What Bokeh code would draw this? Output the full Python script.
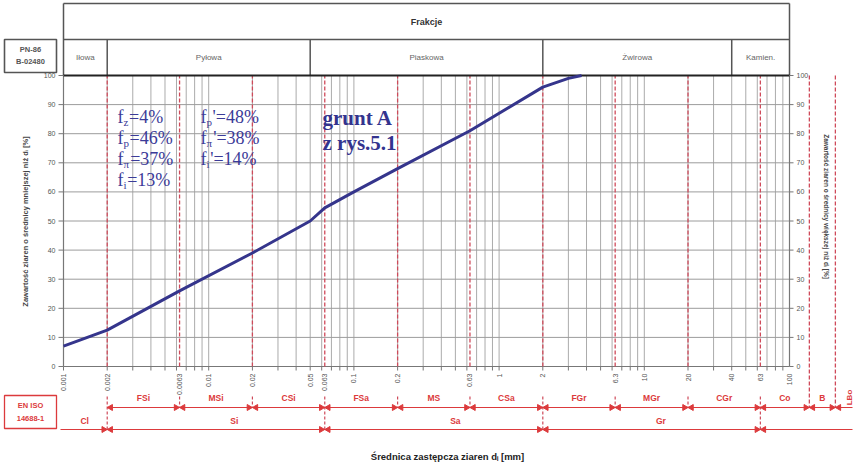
import math
from bokeh.plotting import figure
from bokeh.models import Range1d
from bokeh.core.properties import value
from bokeh.embed import file_html
from bokeh.resources import INLINE

# ---------------- data ----------------
grain_d = [0.001, 0.002, 0.0063, 0.02, 0.05, 0.063, 0.1, 0.2, 0.63, 2.0, 3.0, 3.7]
passing = [7.0, 12.5, 26.0, 39.0, 50.0, 54.5, 60.0, 68.0, 81.0, 96.0, 99.0, 100.0]

pn_bounds = [0.001, 0.002, 0.05, 2.0, 40.0, 100.0]
pn_names = ["Iłowa", "Pyłowa", "Piaskowa", "Żwirowa", "Kamien."]

iso_bounds = [0.002, 0.0063, 0.02, 0.063, 0.2, 0.63, 2.0, 6.3, 20.0, 63.0]
iso_main_bounds = [0.002, 0.063, 2.0, 63.0]
iso_sub_names = ["FSi", "MSi", "CSi", "FSa", "MS", "CSa", "FGr", "MGr", "CGr", "Co", "B"]
iso_main_names = ["Cl", "Si", "Sa", "Gr"]
iso_main_label_d = [0.0014, 0.015, 0.5, 13.0]
# 200 mm and 630 mm boundaries are drawn schematically (compressed) past 100 mm
iso_extra_display = [137.0, 207.0]

x_ticks = [0.001, 0.002, 0.0063, 0.01, 0.02, 0.05, 0.063, 0.1, 0.2, 0.63, 1, 2, 6.3, 10, 20, 40, 63, 100]
x_tick_labels = ["0.001", "0.002", "0.0063", "0.01", "0.02", "0.05", "0.063", "0.1", "0.2",
                 "0.63", "1", "2", "6.3", "10", "20", "40", "63", "100"]
y_ticks = [0, 10, 20, 30, 40, 50, 60, 70, 80, 90, 100]

frac_left_sub = ["z", "p", "π", "i"]
frac_left_val = ["=4%", "=46%", "=37%", "=13%"]
frac_right_sub = ["p", "π", "i"]
frac_right_val = ["'=48%", "'=38%", "'=14%"]

# ---------------- layout helpers (pixel -> data) ----------------
PX0, PXD = 71.0, 145.2      # pixel of 0.001 mm, pixels per decade
PY0, PYS = 374.0, 2.91      # pixel of 0 %, pixels per %
OFF = 8
W, H = 854, 467


def X(px):
    return 10 ** (-3 + (px - PX0) / PXD)


def V(py):
    return (PY0 - py) / PYS


def PXof(d):
    return PX0 + (math.log10(d) + 3) * PXD


p = figure(width=W, height=H, x_axis_type="log",
           x_range=Range1d(X(OFF), X(OFF + W)), y_range=Range1d(V(OFF + H), V(OFF)),
           min_border=0, toolbar_location=None, output_backend="svg",
           x_axis_location=None, y_axis_location=None)
p.outline_line_color = None
p.grid.visible = False
p.background_fill_color = "white"

SANS = value("Liberation Sans")
SERIF = value("Liberation Serif")
RED = "#dc3a3c"
DASH_RED = "#cf4a5a"
BLUE = "#3b3b98"

# ---------------- grid ----------------
gx = [k * 10.0 ** n for n in range(-3, 2) for k in range(1, 10)][1:]
p.segment(gx, [0] * len(gx), gx, [100] * len(gx), line_color="#ababab", line_width=1)
gy = y_ticks[1:-1]
p.segment([0.001] * len(gy), gy, [100] * len(gy), gy, line_color="#9c9c9c", line_width=1)

# frame
p.segment([0.001, 100, 0.001], [0, 0, 0], [0.001, 100, 100], [100, 100, 0],
          line_color="#777777", line_width=1.2)

# red dashed fraction boundaries
p.segment(iso_bounds, [0] * len(iso_bounds), iso_bounds, [100] * len(iso_bounds),
          line_color=DASH_RED, line_width=1.3, line_dash="4 2")
p.segment(iso_extra_display, [100, 100], iso_extra_display, [V(415)] * 2,
          line_color=DASH_RED, line_width=1.3, line_dash="4 2")

# ---------------- header ----------------
p.segment([0.001, 0.001, 0.001, 100], [V(11), V(47), V(11), V(11)],
          [100, 100, 0.001, 100], [V(11), V(47), 100, 100],
          line_color="#555555", line_width=1.5)
mid = pn_bounds[1:-1]
p.segment(mid, [V(47)] * len(mid), mid, [100] * len(mid), line_color="#555555", line_width=1.5)
p.segment([0.001], [100], [100], [100], line_color="#222222", line_width=2.2)
p.text(x=[math.sqrt(pn_bounds[0] * pn_bounds[-1])], y=[V(29)], text=["Frakcje"],
       text_font=SANS, text_font_style="bold", text_font_size="9px",
       text_align="center", text_baseline="middle", text_color="#333333")
pn_cx = [math.sqrt(a * b) for a, b in zip(pn_bounds[:-1], pn_bounds[1:])]
p.text(x=pn_cx, y=[V(65)] * len(pn_cx), text=pn_names, text_font=SANS, text_font_size="8px",
       text_align="center", text_baseline="middle", text_color="#666666")

p.quad(left=[X(12)], right=[X(64)], top=[V(47)], bottom=[V(80)],
       fill_color="white", line_color="#555555", line_width=1.6)
p.text(x=[X(38), X(38)], y=[V(57), V(69)], text=["PN-86", "B-02480"], text_font=SANS,
       text_font_style="bold", text_font_size="7.5px", text_align="center",
       text_baseline="middle", text_color="#555555")

# ---------------- axes ----------------
p.segment([X(66)] * len(y_ticks), y_ticks, [0.001] * len(y_ticks), y_ticks,
          line_color="#777777", line_width=1)
p.text(x=[X(63)] * len(y_ticks), y=y_ticks, text=[str(t) for t in y_ticks], text_font=SANS,
       text_font_size="7px", text_align="right", text_baseline="middle", text_color="#555555")
p.segment([100] * len(y_ticks), y_ticks, [X(801)] * len(y_ticks), y_ticks,
          line_color="#777777", line_width=1)
p.text(x=[X(804)] * len(y_ticks), y=y_ticks, text=[str(t) for t in y_ticks], text_font=SANS,
       text_font_size="7px", text_align="left", text_baseline="middle", text_color="#555555")

p.text(x=[X(33)], y=[V(229)], text=["Zawartość ziaren o średnicy mniejszej niż dᵢ [%]"],
       angle=math.pi / 2, text_font=SANS, text_font_style="bold", text_font_size="7.5px",
       text_align="center", text_baseline="middle", text_color="#444444")
p.text(x=[X(834)], y=[V(214)], text=["Zawartość ziaren o średnicy większej niż dᵢ [%]"],
       angle=-math.pi / 2, text_font=SANS, text_font_style="bold", text_font_size="6.5px",
       text_align="center", text_baseline="middle", text_color="#444444")

tx = [0.001] + gx
p.segment(tx, [0] * len(tx), tx, [V(378)] * len(tx), line_color="#777777", line_width=1)
p.text(x=x_ticks, y=[V(381)] * len(x_ticks), text=x_tick_labels, angle=math.pi / 2,
       text_font=SANS, text_font_size="7px", text_align="right", text_baseline="middle",
       text_color="#555555")

p.text(x=[X(455)], y=[V(464)], text=["Średnica zastępcza ziaren dᵢ [mm]"], text_font=SANS,
       text_font_style="bold", text_font_size="9.5px", text_align="center",
       text_baseline="middle", text_color="#222222")

# ---------------- curve ----------------
p.line(grain_d, passing, line_color="#35358c", line_width=3)

# ---------------- EN ISO 14688-1 ----------------
p.quad(left=[X(12)], right=[X(64)], top=[V(403)], bottom=[V(436)],
       fill_color="white", line_color=RED, line_width=1.3)
p.text(x=[X(38), X(38)], y=[V(413), V(426)], text=["EN ISO", "14688-1"], text_font=SANS,
       text_font_style="bold", text_font_size="7.5px", text_align="center",
       text_baseline="middle", text_color=RED)

y_up, y_lo = V(415), V(437)
p.segment([0.002, X(68)], [y_up, y_lo], [X(860), X(860)], [y_up, y_lo],
          line_color=RED, line_width=1)

sub_only = [b for b in iso_bounds if b not in iso_main_bounds]
p.segment(sub_only, [V(404)] * len(sub_only), sub_only, [y_up] * len(sub_only),
          line_color=DASH_RED, line_width=1.2, line_dash="3 2")
p.segment(iso_main_bounds, [V(404)] * len(iso_main_bounds), iso_main_bounds,
          [y_lo] * len(iso_main_bounds), line_color=DASH_RED, line_width=1.2, line_dash="3 2")

fac = 10 ** (3.5 / PXD)
up_b = iso_bounds + iso_extra_display
left_arrows_x = [b / fac for b in up_b[1:]] + [b / fac for b in iso_main_bounds]
left_arrows_y = [y_up] * (len(up_b) - 1) + [y_lo] * len(iso_main_bounds)
right_arrows_x = [b * fac for b in up_b] + [b * fac for b in iso_main_bounds]
right_arrows_y = [y_up] * len(up_b) + [y_lo] * len(iso_main_bounds)
p.scatter(left_arrows_x, left_arrows_y, marker="triangle", size=6, angle=-math.pi / 2,
          fill_color=RED, line_color=RED)
p.scatter(right_arrows_x, right_arrows_y, marker="triangle", size=6, angle=math.pi / 2,
          fill_color=RED, line_color=RED)

up_edges = up_b
sub_cx = [math.sqrt(a * b) for a, b in zip(up_edges[:-1], up_edges[1:])]
sub_cx = sub_cx[:len(iso_sub_names)]
p.text(x=sub_cx, y=[V(405)] * len(sub_cx), text=iso_sub_names, text_font=SANS,
       text_font_style="bold", text_font_size="8.5px", text_align="center",
       text_baseline="middle", text_color=RED)
p.text(x=[X(857)], y=[V(405)], text=["LBo"], angle=math.pi / 2, text_font=SANS,
       text_font_style="bold", text_font_size="8px", text_align="center",
       text_baseline="middle", text_color=RED)
p.text(x=iso_main_label_d, y=[V(428)] * len(iso_main_label_d), text=iso_main_names,
       text_font=SANS, text_font_style="bold", text_font_size="8.5px", text_align="center",
       text_baseline="middle", text_color=RED)

# ---------------- annotations ----------------
FS = 18.0
SUBFS = 11.0
sub_w = {"z": 0.444, "p": 0.5, "π": 0.55, "i": 0.278}
rows_py = [124, 145, 166, 187]


def frac_block(px_left, subs, vals):
    fx, sx, vx, fy, sy, vy = [], [], [], [], [], []
    for k, (s, v) in enumerate(zip(subs, vals)):
        py = rows_py[k]
        fx.append(X(px_left))
        fy.append(V(py))
        sx.append(X(px_left + 0.34 * FS))
        sy.append(V(py + 5))
        vx.append(X(px_left + 0.34 * FS + sub_w[s] * SUBFS + 0.5))
        vy.append(V(py))
    p.text(x=fx, y=fy, text=["f"] * len(fx), text_font=SERIF, text_font_size=f"{FS}px",
           text_align="left", text_baseline="middle", text_color=BLUE)
    p.text(x=sx, y=sy, text=subs, text_font=SERIF, text_font_size=f"{SUBFS}px",
           text_align="left", text_baseline="middle", text_color=BLUE)
    p.text(x=vx, y=vy, text=vals, text_font=SERIF, text_font_size=f"{FS}px",
           text_align="left", text_baseline="middle", text_color=BLUE)


frac_block(125, frac_left_sub, frac_left_val)
frac_block(208, frac_right_sub, frac_right_val)

p.text(x=[X(330), X(330)], y=[V(125), V(150)], text=["grunt A", "z rys.5.1"],
       text_font=SERIF, text_font_style="bold", text_font_size="21px",
       text_align="left", text_baseline="middle", text_color="#33338e")

open("out.html", "w").write(file_html(p, INLINE))
